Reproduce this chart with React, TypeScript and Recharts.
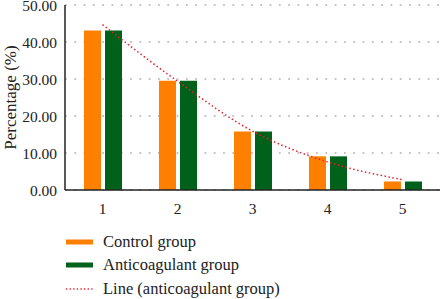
import React from 'react';
import { ComposedChart, Bar, Line, XAxis, YAxis, CartesianGrid, Legend, Label } from 'recharts';

const categories = ['1', '2', '3', '4', '5'];
const controlGroup = [43.1, 29.5, 15.8, 9.1, 2.3];
const anticoagulantGroup = [43.1, 29.5, 15.8, 9.1, 2.3];
const trendLine = [44.7, 29.4, 15.9, 7.6, 2.8];
const yTicks = [0, 10, 20, 30, 40, 50];

const data = categories.map((c, i) => ({
  cat: c,
  control: controlGroup[i],
  anti: anticoagulantGroup[i],
  line: trendLine[i],
}));

const FONT = '"Liberation Serif", "DejaVu Serif", serif';
const ORANGE = '#ff7f00';
const GREEN = '#00611a';
const RED = '#e8202a';
const AXIS = '#222';

const legendItems = [
  { label: 'Control group', kind: 'bar', color: ORANGE },
  { label: 'Anticoagulant group', kind: 'bar', color: GREEN },
  { label: 'Line (anticoagulant group)', kind: 'line', color: RED },
];

const LegendBox = () => (
  <div style={{ height: 79, paddingTop: 10, boxSizing: 'border-box', fontFamily: FONT, fontSize: 16.5, color: '#222' }}>
    {legendItems.map(it => (
      <div key={it.label} style={{ height: 23.5, display: 'flex', alignItems: 'center', paddingLeft: 66 }}>
        <svg width={28} height={6} style={{ marginRight: 9 }}>
          {it.kind === 'bar' ? (
            <rect x={0} y={0.5} width={27} height={5} fill={it.color} />
          ) : (
            <line x1={0} y1={3} x2={27} y2={3} stroke={it.color} strokeWidth={1.3} strokeDasharray="1.3 2.3" />
          )}
        </svg>
        <span>{it.label}</span>
      </div>
    ))}
  </div>
);

const App: React.FC = () => {
  return (
    <div style={{ width: 442, height: 299 }}>
      <style>{'body{margin:0}'}</style>
      <ComposedChart
        width={442}
        height={299}
        data={data}
        margin={{ top: 5, right: 2, bottom: 0, left: 0 }}
        barSize={17}
        barGap={4}
      >
        <CartesianGrid horizontal vertical={false} stroke="#888" strokeDasharray="1.8 7.5" />
        <XAxis
          dataKey="cat"
          height={30}
          tickLine={false}
          tickSize={0}
          tickMargin={13}
          axisLine={{ stroke: AXIS, strokeWidth: 1.5 }}
          tick={{ fill: AXIS, fontSize: 15.5, fontFamily: FONT }}
        />
        <XAxis xAxisId="top" dataKey="cat" orientation="top" height={0} tick={false} tickLine={false} axisLine={{ stroke: AXIS, strokeWidth: 1.5 }} />
        <YAxis
          domain={[0, 50]}
          ticks={yTicks}
          width={65}
          tickLine={false}
          tickSize={0}
          tickMargin={8}
          interval={0}
          tickFormatter={(v: number) => v.toFixed(2)}
          axisLine={{ stroke: AXIS, strokeWidth: 1.5 }}
          tick={{ fill: AXIS, fontSize: 15.5, fontFamily: FONT }}
        >
          <Label
            content={({ viewBox }: any) => {
              const cy = viewBox.y + viewBox.height / 2;
              return (
                <text x={10} y={cy} transform={`rotate(-90 10 ${cy})`} textAnchor="middle" dominantBaseline="central" fill={AXIS} fontSize={17} fontFamily={FONT}>
                  Percentage (%)
                </text>
              );
            }}
          />
        </YAxis>
        <YAxis yAxisId="right" orientation="right" domain={[0, 50]} width={0} tick={false} tickLine={false} axisLine={{ stroke: AXIS, strokeWidth: 1.5 }} />
        <Legend verticalAlign="bottom" align="left" height={79} content={() => <LegendBox />} />
        <Bar dataKey="control" fill={ORANGE} isAnimationActive={false} />
        <Bar dataKey="anti" fill={GREEN} isAnimationActive={false} />
        <Line type="monotone" dataKey="line" stroke={RED} strokeWidth={1.5} strokeDasharray="1.5 2.5" dot={false} activeDot={false} isAnimationActive={false} />
      </ComposedChart>
    </div>
  );
};

export default App;
